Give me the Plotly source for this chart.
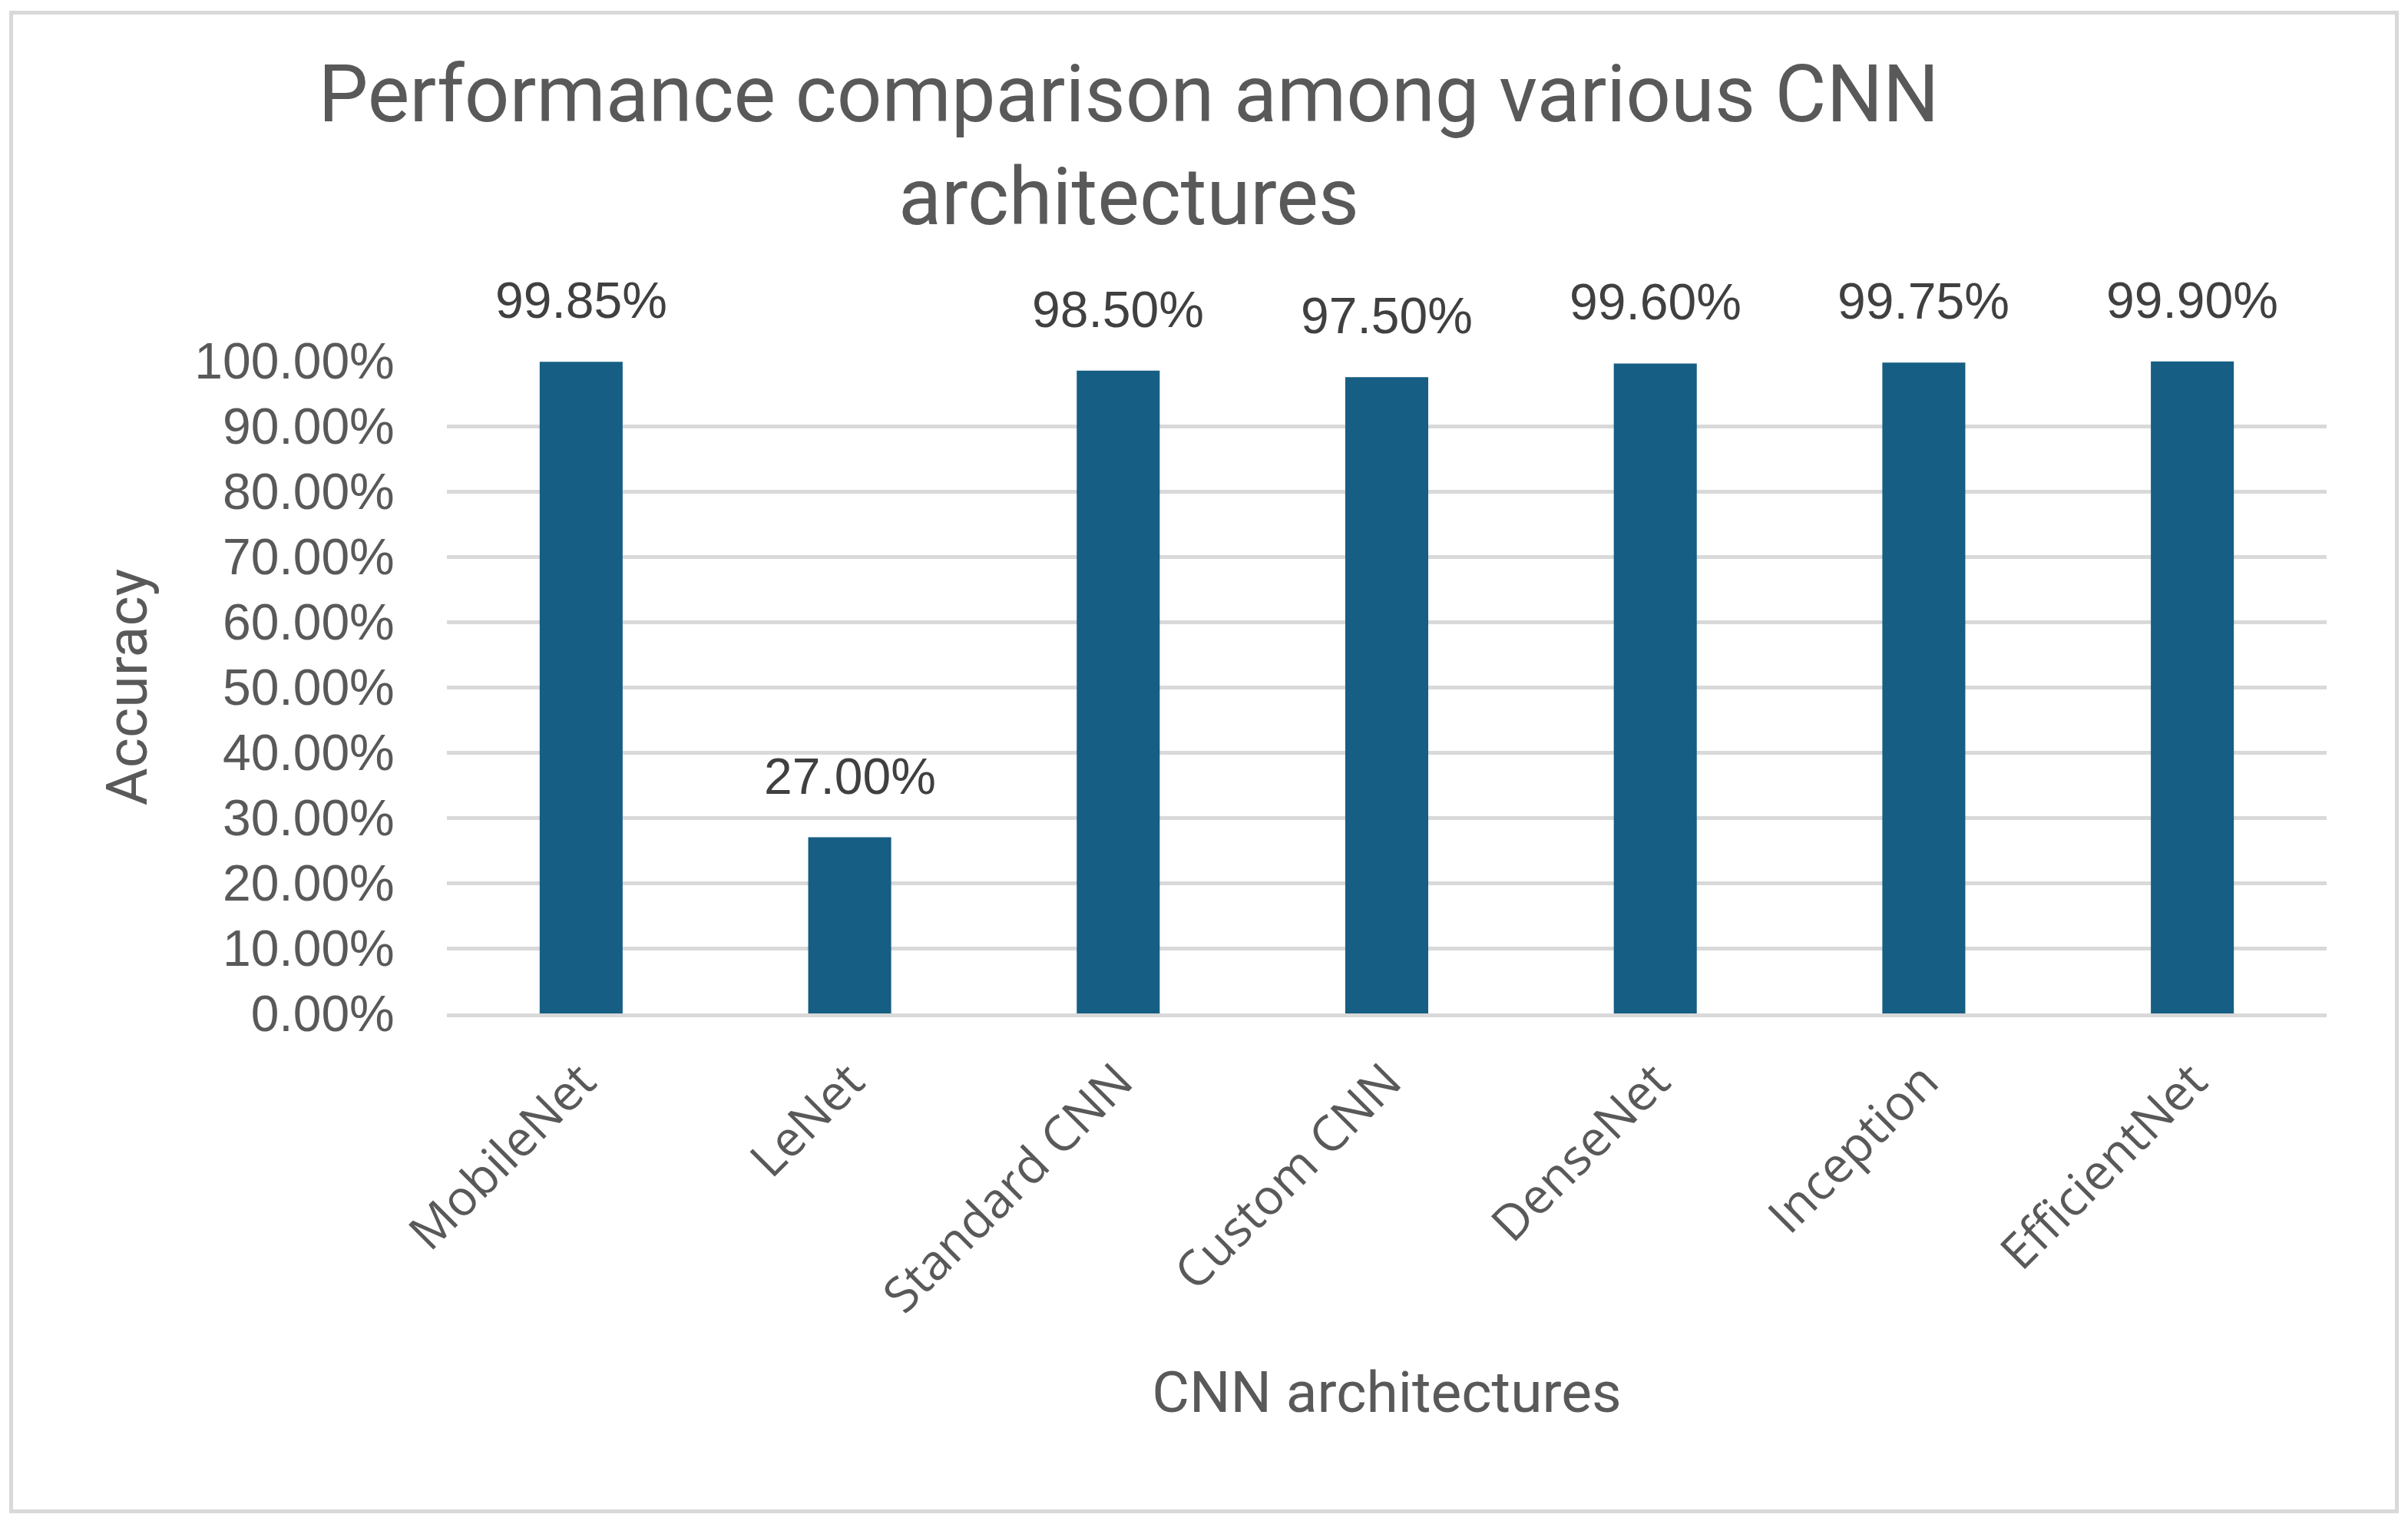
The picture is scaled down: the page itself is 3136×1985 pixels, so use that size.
import plotly.graph_objects as go

categories = ["MobileNet", "LeNet", "Standard CNN", "Custom CNN", "DenseNet", "Inception", "EfficientNet"]
accuracy = [0.9985, 0.27, 0.985, 0.975, 0.996, 0.9975, 0.999]
value_labels = ["99.85%", "27.00%", "98.50%", "97.50%", "99.60%", "99.75%", "99.90%"]
title_text = "Performance comparison among various CNN<br>architectures"
x_title = "CNN architectures"
y_title = "Accuracy"

W, H = 3136, 1985
OFF = 8  # page body offset
L, T = 582 - OFF, 470 - OFF
R = W - (3030 - OFF)
B = H - (1320 - OFF)

fig = go.Figure()
fig.add_trace(go.Bar(
    x=categories, y=accuracy,
    marker=dict(color="#165E83", line=dict(width=0)),
    hoverinfo="skip",
))

for c, v, lab in zip(categories, accuracy, value_labels):
    fig.add_annotation(x=c, y=v, text=lab, showarrow=False, xref="x", yref="y",
                       yanchor="middle", yshift=80,
                       font=dict(family="Liberation Sans, Arial", size=66, color="#404040"))

# outer chart border
pw, ph = W - L - R, H - T - B
def px_to_paper_x(px):
    return (px - OFF - L) / pw
def px_to_paper_y(py):
    return (H - B - (py - OFF)) / ph
fig.add_shape(type="rect", xref="paper", yref="paper",
              x0=px_to_paper_x(14.5), x1=px_to_paper_x(3121.5),
              y0=px_to_paper_y(1968.5), y1=px_to_paper_y(16.5),
              line=dict(color="#D9D9D9", width=5), fillcolor="rgba(0,0,0,0)", layer="below")

fig.update_layout(
    width=W, height=H,
    margin=dict(l=L, r=R, t=T, b=B, autoexpand=False),
    paper_bgcolor="white", plot_bgcolor="white",
    bargap=0.691,
    showlegend=False,
    title=dict(text=title_text, xref="container", yref="container",
               x=(1470 - OFF) / W, xanchor="center", y=1 - 150 / H, yanchor="top",
               font=dict(family="Roboto", size=103, color="#595959")),
    xaxis=dict(
        showgrid=False, showline=True, linecolor="#D9D9D9", linewidth=5,
        tickangle=-45, ticks="outside", ticklen=20, tickcolor="rgba(0,0,0,0)",
        tickfont=dict(family="Open Sans", size=64, color="#595959"),
        title=dict(text=x_title, standoff=62,
                   font=dict(family="Roboto", size=75, color="#595959")),
        automargin=False,
    ),
    yaxis=dict(
        range=[0, 1], dtick=0.1, tickformat=".2%",
        showgrid=True, gridcolor="#D9D9D9", gridwidth=5,
        zeroline=False, showline=False,
        ticks="outside", ticklen=54, tickcolor="rgba(0,0,0,0)",
        tickfont=dict(family="Liberation Sans, Arial", size=66, color="#595959"),
        title=dict(text=y_title, standoff=36,
                   font=dict(family="Roboto", size=75, color="#595959")),
        automargin=False,
    ),
)

fig.write_html("out.html")
